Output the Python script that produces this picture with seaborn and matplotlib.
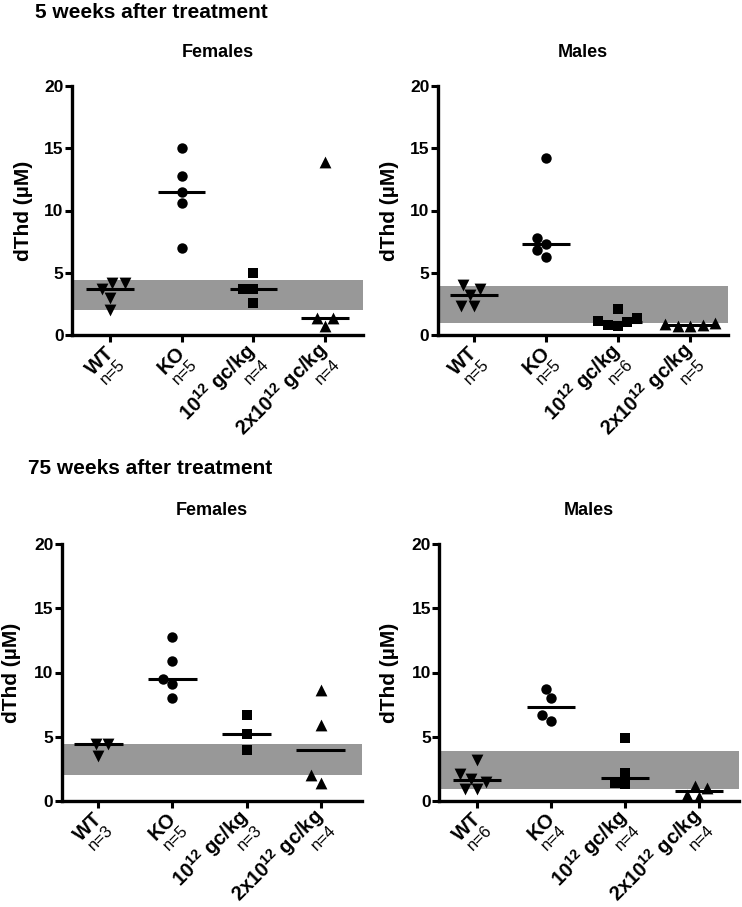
import matplotlib
matplotlib.use('Agg')
import matplotlib.pyplot as plt
import matplotlib.transforms as mtransforms
import seaborn as sns
import pandas as pd

# group labels / markers (WT, KO, 10^12 gc/kg, 2x10^12 gc/kg)
group_names = ['WT', 'KO', '10$^{12}$ gc/kg', '2x10$^{12}$ gc/kg']
group_markers = ['v', 'o', 's', '^']
marker_sizes = [8.5, 7.5, 7.0, 8.5]

# dThd (uM) per animal, one list per group
females_5wk = [[4.2, 3.7, 4.2, 3.0, 2.0],
               [15.0, 12.8, 11.5, 10.6, 7.0],
               [5.0, 3.7, 3.7, 2.6],
               [13.9, 1.4, 1.4, 0.7]]
males_5wk = [[4.0, 3.7, 3.2, 2.3, 2.3],
             [14.2, 7.8, 7.3, 6.8, 6.3],
             [2.1, 1.4, 1.1, 1.05, 0.8, 0.75],
             [0.95, 0.75, 0.7, 0.8, 0.85]]
females_75wk = [[4.4, 4.45, 3.5],
                [12.8, 10.9, 9.5, 9.1, 8.0],
                [6.7, 5.2, 4.0],
                [8.6, 5.9, 2.0, 1.4]]
males_75wk = [[3.2, 2.1, 1.7, 1.5, 0.9, 0.9],
              [8.7, 8.0, 6.7, 6.2],
              [4.9, 2.2, 1.4, 1.3],
              [1.0, 0.3, 0.5, 1.2]]

# normal range (grey band)
band_females = [2.0, 4.45]
band_males = [0.95, 3.9]

y_ticks = [0, 5, 10, 15, 20]

sns.set_theme(style='ticks')
plt.rcParams['font.family'] = ['Liberation Sans', 'DejaVu Sans']
plt.rcParams['mathtext.fontset'] = 'custom'
plt.rcParams['mathtext.rm'] = 'Liberation Sans'
plt.rcParams['mathtext.default'] = 'regular'
for key in ['text.color', 'axes.labelcolor', 'xtick.color', 'ytick.color']:
    plt.rcParams[key] = 'black'

W, H = 742, 907
fig = plt.figure(figsize=(W / 100, H / 100), dpi=100)


def px_box(left, right, top, bottom):
    return [left / W, 1 - bottom / H, (right - left) / W, (bottom - top) / H]


def to_frame(data):
    rows = []
    for name, vals in zip(group_names, data):
        for v in vals:
            rows.append({'group': name, 'dThd': v})
    return pd.DataFrame(rows)


def draw_panel(box, data, band, title, xlim):
    ax = fig.add_axes(box)
    df = to_frame(data)

    ax.axhspan(band[0], band[1], color='#989898', lw=0, zorder=0)

    for name, m, s in zip(group_names, group_markers, marker_sizes):
        sub = df[df['group'] == name]
        sns.swarmplot(data=sub, x='group', y='dThd', order=group_names,
                      marker=m, color='black', size=s, linewidth=0, ax=ax,
                      zorder=3)

    # median line per group
    sns.boxplot(data=df, x='group', y='dThd', order=group_names, width=0.66,
                showfliers=False, showcaps=False,
                boxprops={'visible': False},
                whiskerprops={'visible': False},
                capprops={'visible': False},
                medianprops={'color': 'black', 'lw': 2.2, 'zorder': 5},
                ax=ax)

    ax.set_xlim(*xlim)
    ax.set_ylim(0, 20)
    ax.set_yticks(y_ticks)
    ax.set_xticks(range(len(group_names)))
    ax.set_xticklabels([])
    ax.set_xlabel('')
    ax.set_ylabel('dThd (µM)', fontsize=15, fontweight='bold')
    ax.yaxis.set_label_coords(-0.135, 0.5)
    ax.set_title(title, fontsize=13, fontweight='bold', pad=21)

    for lbl in ax.get_yticklabels():
        lbl.set_fontweight('bold')
        lbl.set_fontsize(12.5)
    ax.tick_params(axis='both', width=2.2, length=5, color='black', pad=1)
    for side in ['top', 'right']:
        ax.spines[side].set_visible(False)
    for side in ['left', 'bottom']:
        ax.spines[side].set_linewidth(2.4)
        ax.spines[side].set_color('black')

    # two-line rotated group labels: bold name + n
    base = mtransforms.blended_transform_factory(ax.transData, ax.transAxes)
    anchor = mtransforms.offset_copy(base, fig=fig, x=5.5, y=-15.5, units='points')
    for i, (name, vals) in enumerate(zip(group_names, data)):
        ax.text(i, 0, name, transform=anchor, rotation=45,
                rotation_mode='anchor', ha='right', va='bottom',
                fontsize=14.5, fontweight='bold')
        ax.text(i, 0, f'n={len(vals)}', transform=anchor, rotation=45,
                rotation_mode='anchor', ha='right', va='top', fontsize=12)
    return ax


draw_panel(px_box(72, 363, 86, 335), females_5wk, band_females, 'Females', (-0.53, 3.53))
draw_panel(px_box(437.7, 727.7, 86, 335), males_5wk, band_males, 'Males', (-0.5, 3.52))
draw_panel(px_box(61.7, 361.7, 544, 801), females_75wk, band_females, 'Females', (-0.49, 3.55))
draw_panel(px_box(439.3, 739, 544, 801), males_75wk, band_males, 'Males', (-0.51, 3.54))

fig.text(35 / W, 1 - 12 / H, '5 weeks after treatment', fontsize=15,
         fontweight='bold', ha='left', va='center')
fig.text(28 / W, 1 - 468 / H, '75 weeks after treatment', fontsize=15,
         fontweight='bold', ha='left', va='center')

plt.savefig('out.png', dpi=100)
